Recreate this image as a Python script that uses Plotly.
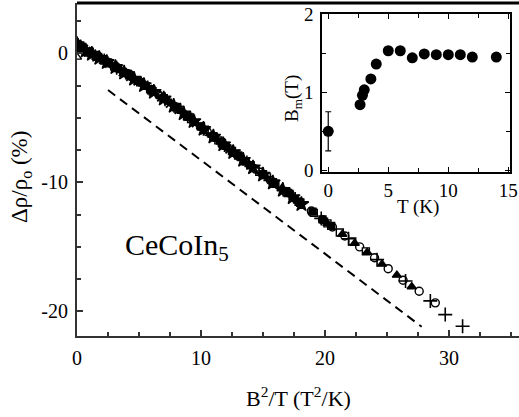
import plotly.graph_objects as go

# ---------------- main panel data: B^2/T (T^2/K) vs drho/rho0 (%) ----------------
plus_x = [0.1, 0.6, 1.3, 2.2, 3.2, 4.4, 5.7, 7.1, 8.6, 10.2, 11.9, 13.7, 15.6, 17.6, 19.7, 21.9, 24.2, 26.5, 28.5, 29.7, 31.1]
plus_y = [0.6, 0.27, -0.1, -0.56, -1.12, -1.84, -2.65, -3.57, -4.65, -5.85, -7.12, -8.47, -9.85, -11.3, -12.8, -14.38, -16.0, -17.65, -19.2, -20.26, -21.16]

circ_x = [0.05, 0.4, 0.9, 1.6, 2.4, 3.3, 4.3, 5.4, 6.6, 7.9, 9.2, 10.5, 11.8, 13.1, 14.4, 15.6, 16.8, 17.9, 18.9, 19.8, 20.6, 21.6, 22.8, 24.0, 25.1, 26.3, 27.6, 28.9]
circ_y = [0.48, 0.32, 0.1, -0.25, -0.67, -1.18, -1.78, -2.46, -3.24, -4.13, -5.1, -6.08, -7.05, -8.03, -8.98, -9.85, -10.71, -11.53, -12.23, -12.9, -13.47, -14.17, -15.01, -15.85, -16.7, -17.6, -18.45, -19.35]

ftri_x = [0.1, 0.5, 1.1, 1.9, 2.8, 3.8, 4.9, 6.1, 7.4, 8.7, 10.0, 11.3, 12.6, 13.9, 15.2, 16.5, 17.8, 19.0, 20.2, 21.4, 22.4, 23.4, 24.6, 25.8, 27.0]
ftri_y = [0.55, 0.3, 0.0, -0.4, -0.89, -1.48, -2.14, -2.92, -3.78, -4.72, -5.7, -6.67, -7.65, -8.62, -9.55, -10.5, -11.45, -12.3, -13.2, -14.03, -14.73, -15.43, -16.35, -17.2, -18.1]

osq_x = [0.0, 0.4, 0.9, 1.5, 2.2, 3.0, 3.9, 4.9, 5.9, 7.0, 8.1, 9.2, 10.3, 11.4, 12.5, 13.6, 14.7, 15.8, 16.9, 18.0, 19.1, 20.2, 21.2, 22.2, 23.3]
osq_y = [0.45, 0.28, 0.08, -0.2, -0.56, -1.0, -1.54, -2.14, -2.78, -3.5, -4.28, -5.1, -5.93, -6.75, -7.58, -8.4, -9.19, -10.0, -10.78, -11.6, -12.37, -13.19, -13.89, -14.59, -15.36]

fsq_x = [0.05, 0.5, 1.0, 1.7, 2.5, 3.3, 4.2, 5.1, 6.0, 7.0, 8.0, 9.0, 10.0, 11.0, 12.0, 13.0, 14.0, 15.0, 16.0, 17.0, 18.0, 19.0, 19.8, 20.5]
fsq_y = [0.6, 0.32, 0.08, -0.28, -0.7, -1.15, -1.7, -2.25, -2.82, -3.48, -4.18, -4.93, -5.68, -6.43, -7.18, -7.93, -8.68, -9.38, -10.12, -10.83, -11.57, -12.28, -12.88, -13.38]

star_x = [0.0, 0.3, 0.7, 1.2, 1.8, 2.4, 3.1, 3.8, 4.6, 5.4, 6.2, 7.0, 7.8, 8.6, 9.4, 10.2, 11.0, 11.8, 12.6, 13.4, 14.2, 15.0, 15.8, 16.6, 17.4, 18.1]
star_y = [0.7, 0.45, 0.2, -0.05, -0.37, -0.69, -1.08, -1.5, -1.98, -2.48, -3.0, -3.52, -4.08, -4.67, -5.27, -5.87, -6.47, -7.07, -7.67, -8.27, -8.86, -9.42, -10.03, -10.6, -11.17, -11.7]

otri_x = [0.0, 0.0, 0.3, 0.6, 1.0, 1.5, 2.0, 2.6, 3.2, 3.9, 4.6, 5.3, 6.0, 6.7, 7.4, 8.1, 8.8, 9.5, 10.2, 10.9, 11.6, 12.3, 13.0, 13.7, 14.4, 15.0]
otri_y = [0.9, -0.3, 0.6, 0.4, 0.15, -0.15, -0.4, -0.72, -1.08, -1.5, -1.93, -2.36, -2.8, -3.27, -3.74, -4.24, -4.77, -5.3, -5.82, -6.35, -6.88, -7.4, -7.92, -8.45, -8.97, -9.37]

xc_x = [0.0, 0.2, 0.5, 0.8, 1.2, 1.6, 2.1, 2.6, 3.1, 3.7, 4.3, 4.9, 5.5, 6.1, 6.8, 7.5, 8.2, 8.9, 9.6, 10.3, 11.0, 11.7, 12.3]
xc_y = [0.3, 0.5, 0.35, 0.15, -0.02, -0.25, -0.5, -0.8, -1.1, -1.46, -1.82, -2.18, -2.55, -2.95, -3.42, -3.9, -4.38, -4.9, -5.42, -5.95, -6.48, -6.98, -7.45]

dash_x = [2.5, 27.8]
dash_y = [-2.85, -21.2]

main_xticks = [0, 10, 20, 30]
main_xticktext = ["0", "10", "20", "30"]
main_yticks = [-20, -10, 0]
main_yticktext = ["-20", "-10", "0"]

# ---------------- inset data: T (K) vs B_m (T) ----------------
inset_T = [0.0, 2.65, 2.85, 3.0, 3.55, 4.0, 5.0, 6.0, 7.0, 8.0, 9.0, 10.0, 11.0, 12.0, 14.0]
inset_B = [0.5, 0.84, 0.96, 1.03, 1.17, 1.36, 1.53, 1.53, 1.44, 1.49, 1.48, 1.48, 1.48, 1.45, 1.45]
inset_err = [0.25, 0, 0, 0, 0, 0, 0, 0, 0, 0, 0, 0, 0, 0, 0]
inset_xticks = [0, 5, 10, 15]
inset_xticktext = ["0", "5", "10", "15"]
inset_yticks = [0, 1, 2]
inset_yticktext = ["0", "1", "2"]

W, H = 519, 417
FONT = "Liberation Serif"
BLK = "black"

fig = go.Figure()

def add_series(x, y, symbol, size=8, open_=False, lw=1.4):
    fig.add_trace(go.Scatter(
        x=x, y=y, mode="markers", xaxis="x", yaxis="y",
        marker=dict(symbol=symbol, size=size,
                    color="white" if open_ else BLK,
                    line=dict(color=BLK, width=lw)),
        showlegend=False, hoverinfo="skip"))

# open symbols underneath, filled ones on top (dense black band as in the figure)
add_series(circ_x, circ_y, "circle", 8, open_=True)
add_series(osq_x, osq_y, "square", 7, open_=True)
add_series(otri_x, otri_y, "triangle-up", 8, open_=True)
add_series(star_x, star_y, "star", 11)
add_series(fsq_x, fsq_y, "square", 7)
add_series(xc_x, xc_y, "x-thin", 8, lw=1.8)
add_series(ftri_x, ftri_y, "triangle-up", 8)
add_series(plus_x, plus_y, "cross-thin", 10, lw=1.6)

fig.add_trace(go.Scatter(
    x=dash_x, y=dash_y, mode="lines", xaxis="x", yaxis="y",
    line=dict(color=BLK, width=2, dash="9px,6px"),
    showlegend=False, hoverinfo="skip"))

fig.add_trace(go.Scatter(
    x=inset_T, y=inset_B, mode="markers", xaxis="x2", yaxis="y2",
    marker=dict(symbol="circle", size=11, color=BLK),
    error_y=dict(type="data", array=inset_err, visible=True,
                 color=BLK, thickness=1.2, width=3),
    showlegend=False, hoverinfo="skip"))

# geometry in pixels
mx0, mx1, my_top, my_bot = 77, 519, 3, 336
ix0, ix1, iy_top, iy_bot = 322, 510, 14, 172

def fx(px):
    return px / W

def fy(py):
    return 1 - py / H

axis_font = dict(family=FONT, size=20, color=BLK)
inset_font = dict(family=FONT, size=19, color=BLK)

def ann(text, px, py, size, angle=0):
    return dict(text=text, xref="paper", yref="paper", x=fx(px), y=fy(py),
                xanchor="center", yanchor="middle", showarrow=False, textangle=angle,
                font=dict(family=FONT, size=size, color=BLK))

fig.update_layout(
    template="none",
    width=W, height=H,
    margin=dict(l=0, r=0, t=0, b=0, pad=0),
    paper_bgcolor="white", plot_bgcolor="white",
    font=dict(family=FONT, color=BLK),
    xaxis=dict(domain=[fx(mx0), 1.0], range=[0, 35.65], showgrid=False, zeroline=False,
               automargin=False,
               showline=True, linecolor="#333", linewidth=2,
               ticks="inside", ticklen=6, tickwidth=1.5, tickcolor="#333",
               tickmode="array", tickvals=main_xticks, ticktext=main_xticktext,
               tickfont=axis_font, ticklabelstandoff=3,
               minor=dict(ticks="inside", ticklen=4, tickwidth=1.5, tickcolor="#333",
                          tickmode="linear", tick0=0, dtick=2.5, showgrid=False),
               anchor="y"),
    yaxis=dict(domain=[fy(my_bot), fy(my_top)], range=[-21.92, 3.9], showgrid=False, zeroline=False,
               automargin=False,
               showline=True, linecolor="#333", linewidth=2,
               ticks="inside", ticklen=6, tickwidth=1.5, tickcolor="#333",
               tickmode="array", tickvals=main_yticks, ticktext=main_yticktext,
               tickfont=axis_font, ticklabelstandoff=3,
               minor=dict(ticks="inside", ticklen=4, tickwidth=1.5, tickcolor="#333",
                          tickmode="linear", tick0=0, dtick=2.5, showgrid=False),
               anchor="x"),
    xaxis2=dict(domain=[fx(ix0), fx(ix1)], range=[-0.52, 15.14], showgrid=False, zeroline=False,
                automargin=False,
                showline=True, linecolor=BLK, linewidth=1.5, mirror="ticks",
                ticks="inside", ticklen=5, tickwidth=1.3, tickcolor=BLK,
                tickmode="array", tickvals=inset_xticks, ticktext=inset_xticktext,
                tickfont=inset_font, ticklabelstandoff=0,
                minor=dict(ticks="inside", ticklen=4, tickwidth=1.3, tickcolor=BLK,
                           tickmode="linear", tick0=0, dtick=2.5, showgrid=False),
                anchor="y2"),
    yaxis2=dict(domain=[fy(iy_bot), fy(iy_top)], range=[-0.02, 2.0], showgrid=False, zeroline=False,
                automargin=False,
                showline=True, linecolor=BLK, linewidth=1.5, mirror="ticks",
                ticks="inside", ticklen=5, tickwidth=1.3, tickcolor=BLK,
                tickmode="array", tickvals=inset_yticks, ticktext=inset_yticktext,
                tickfont=inset_font, ticklabelstandoff=3,
                minor=dict(ticks="inside", ticklen=4, tickwidth=1.3, tickcolor=BLK,
                           tickmode="linear", tick0=0, dtick=0.5, showgrid=False),
                anchor="x2"),
    shapes=[dict(type="line", xref="paper", yref="paper",
                 x0=fx(mx0), x1=1.0, y0=fy(my_top), y1=fy(my_top),
                 line=dict(color=BLK, width=3))],
    annotations=[
        ann("B<sup>2</sup>/T (T<sup>2</sup>/K)", 298, 397, 22),
        ann("Δρ/ρ<sub>o</sub> (%)", 21, 177, 23, -90),
        ann("CeCoIn<sub>5</sub>", 177, 247, 30),
        ann("T (K)", 418, 207, 19),
        ann("B<sub>m</sub>(T)", 293, 99, 19, -90),
    ],
)

fig.write_html("out.html",
               config={"displayModeBar": False},
               post_script="document.body.style.margin='0';document.body.style.overflow='hidden';")
